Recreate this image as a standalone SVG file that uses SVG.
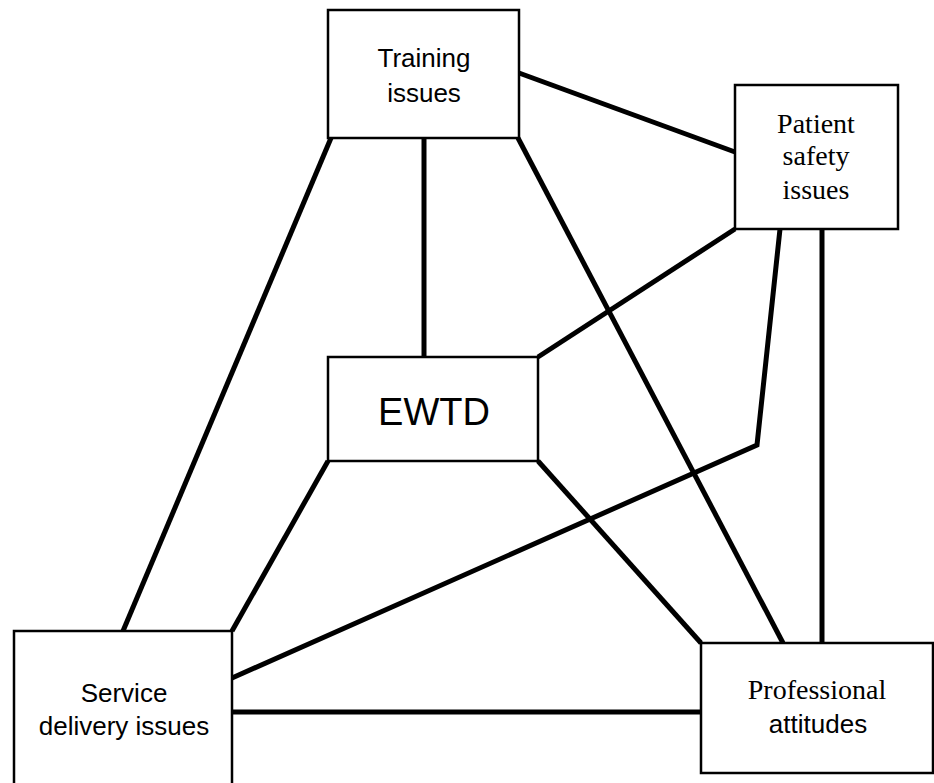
<svg xmlns="http://www.w3.org/2000/svg" width="934" height="783" viewBox="0 0 934 783">
<style>
.box{fill:#fff;stroke:#000;stroke-width:2.5}
.ln{fill:none;stroke:#000;stroke-width:5;stroke-linejoin:miter}
.sans{font-family:"Liberation Sans",Arial,sans-serif;font-size:26px;fill:#000;text-anchor:middle}
.serif{font-family:"Liberation Serif","Times New Roman",serif;font-size:28px;fill:#000;text-anchor:middle}
.big{font-family:"Liberation Sans",Arial,sans-serif;font-size:38px;fill:#000;text-anchor:middle}
</style>
<rect width="934" height="783" fill="#fff"/>
<g id="connectors">
<line class="ln" x1="519" y1="73" x2="735" y2="152"/>
<line class="ln" x1="424" y1="138" x2="424" y2="357"/>
<line class="ln" x1="331" y1="138" x2="123" y2="631"/>
<line class="ln" x1="518" y1="138" x2="783" y2="643"/>
<line class="ln" x1="735" y1="229" x2="538" y2="357"/>
<polyline class="ln" points="780,229 757,445 232,678"/>
<line class="ln" x1="822" y1="229" x2="822" y2="643"/>
<line class="ln" x1="328" y1="461" x2="232" y2="631"/>
<line class="ln" x1="538" y1="461" x2="701" y2="643"/>
<line class="ln" x1="232" y1="712" x2="701" y2="712"/>
</g>
<g id="training">
<rect class="box" x="328" y="10" width="191" height="128"/>
<text class="sans" x="424" y="67">Training</text>
<text class="sans" x="424" y="102">issues</text>
</g>
<g id="patient">
<rect class="box" x="735" y="85" width="163" height="144"/>
<text class="serif" x="816" y="133">Patient</text>
<text class="serif" x="816" y="165">safety</text>
<text class="serif" x="816" y="199">issues</text>
</g>
<g id="ewtd">
<rect class="box" x="328" y="357" width="210" height="104"/>
<text class="big" x="434" y="425">EWTD</text>
</g>
<g id="service">
<rect class="box" x="14" y="631" width="218" height="162"/>
<text class="sans" x="124" y="702">Service</text>
<text class="sans" x="124" y="735">delivery issues</text>
</g>
<g id="professional">
<rect class="box" x="701" y="643" width="232" height="130"/>
<text class="serif" x="817" y="699">Professional</text>
<text class="sans" x="818" y="733">attitudes</text>
</g>
</svg>
